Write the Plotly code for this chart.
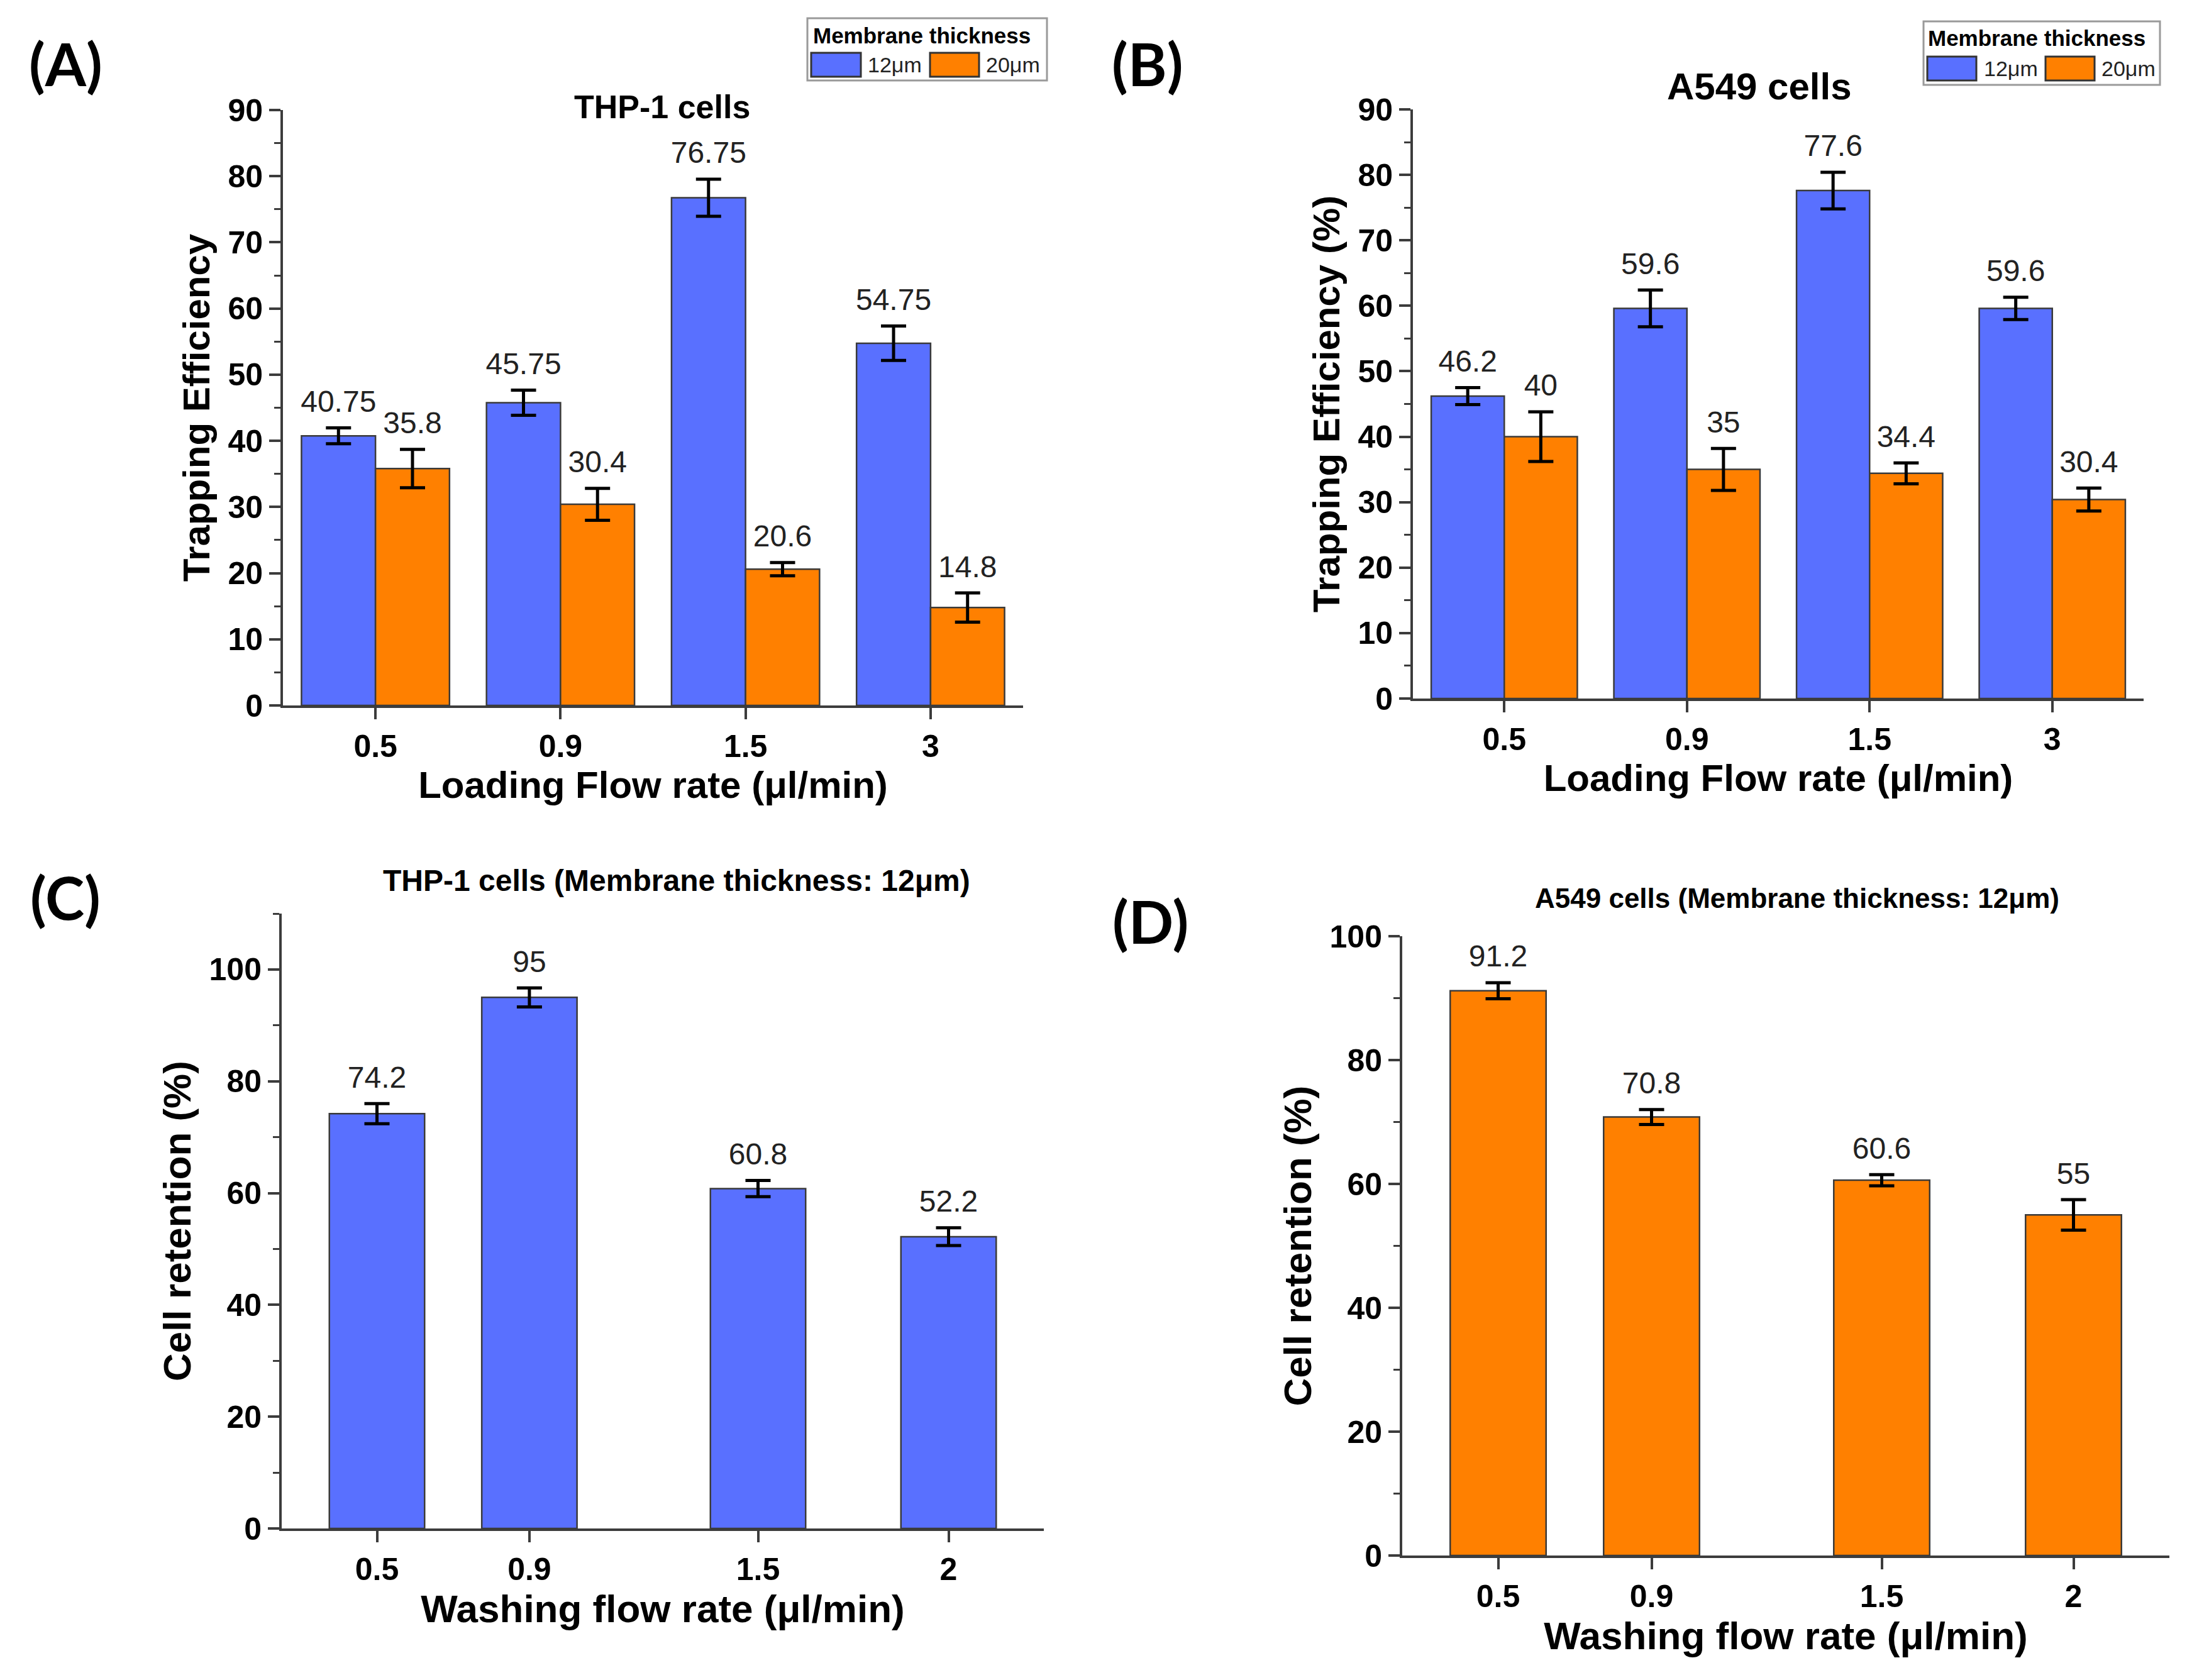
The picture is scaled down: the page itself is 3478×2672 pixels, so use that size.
import plotly.graph_objects as go

W, H = 3478, 2672

# ---------------- data ----------------
load_rates = ["0.5", "0.9", "1.5", "3"]
thp1_trap_12 = [40.75, 45.75, 76.75, 54.75]
thp1_trap_12_err = [1.2, 1.9, 2.8, 2.6]
thp1_trap_20 = [35.8, 30.4, 20.6, 14.8]
thp1_trap_20_err = [2.9, 2.4, 1.0, 2.2]

a549_trap_12 = [46.2, 59.6, 77.6, 59.6]
a549_trap_12_err = [1.3, 2.8, 2.8, 1.7]
a549_trap_20 = [40, 35, 34.4, 30.4]
a549_trap_20_err = [3.8, 3.2, 1.6, 1.75]

wash_rates = [0.5, 0.9, 1.5, 2]
wash_labels = ["0.5", "0.9", "1.5", "2"]
thp1_ret = [74.2, 95, 60.8, 52.2]
thp1_ret_err = [1.8, 1.7, 1.45, 1.6]
a549_ret = [91.2, 70.8, 60.6, 55]
a549_ret_err = [1.3, 1.2, 0.9, 2.45]

series_names = ["12\u03bcm", "20\u03bcm"]

# ---------------- style ----------------
BLUE = "#5970FF"
ORANGE = "#FF8000"
EDGE = "#3a3a3a"
AXC = "#3c3c3c"
FONT = "Liberation Sans"
LABEL_COLOR = "#222222"


def px2x(p):
    return p / W


def px2y(p):
    return 1 - p / H


fig = go.Figure()


def add_bars(xs, vals, errs, color, xa, ya, width):
    fig.add_trace(go.Bar(
        x=xs, y=vals, width=width, xaxis=xa, yaxis=ya,
        marker=dict(color=color, line=dict(color=EDGE, width=2.5)),
        error_y=dict(type="data", array=errs, color="black", thickness=5, width=20),
        showlegend=False, hoverinfo="skip",
    ))
    fig.add_trace(go.Scatter(
        x=xs, y=[v + e for v, e in zip(vals, errs)], xaxis=xa, yaxis=ya,
        mode="markers+text", marker=dict(size=20, opacity=0),
        text=[f"{v:g}" for v in vals], textposition="top center",
        textfont=dict(size=48, color=LABEL_COLOR, family=FONT),
        cliponaxis=False, showlegend=False, hoverinfo="skip",
    ))


# Panel A and B: grouped bars on index positions
idx = list(range(len(load_rates)))
blue_x = [i - 0.2 for i in idx]
orange_x = [i + 0.2 for i in idx]
add_bars(blue_x, thp1_trap_12, thp1_trap_12_err, BLUE, "x", "y", 0.4)
add_bars(orange_x, thp1_trap_20, thp1_trap_20_err, ORANGE, "x", "y", 0.4)
add_bars(blue_x, a549_trap_12, a549_trap_12_err, BLUE, "x2", "y2", 0.4)
add_bars(orange_x, a549_trap_20, a549_trap_20_err, ORANGE, "x2", "y2", 0.4)

# Panel C and D
add_bars(wash_rates, thp1_ret, thp1_ret_err, BLUE, "x3", "y3", 0.25)
add_bars(wash_rates, a549_ret, a549_ret_err, ORANGE, "x4", "y4", 0.25)

tickfont = dict(family=FONT, size=50, color="black", weight="bold")


def xaxis(dom, rng, tickvals, ticktext, title, anchor, tsize=60, standoff=8):
    return dict(
        domain=dom, range=rng, anchor=anchor, tickmode="array", automargin=False,
        tickvals=tickvals, ticktext=ticktext, showgrid=False, zeroline=False,
        showline=True, linecolor=AXC, linewidth=4, ticks="outside", ticklen=18,
        tickwidth=3.5, tickcolor=AXC, tickfont=tickfont,
        title=dict(text=title, font=dict(family=FONT, size=tsize, color="black", weight="bold"),
                   standoff=standoff),
        fixedrange=True,
    )


def yaxis(dom, rng, dtick, mdtick, title, anchor, tsize=60, standoff=10):
    return dict(
        domain=dom, range=rng, anchor=anchor, dtick=dtick, tick0=0, automargin=False,
        showgrid=False, zeroline=False, showline=True, linecolor=AXC, linewidth=4,
        ticks="outside", ticklen=18, tickwidth=3.5, tickcolor=AXC, tickfont=tickfont,
        minor=dict(ticks="outside", ticklen=10, tickwidth=3, tickcolor=AXC, dtick=mdtick, showgrid=False),
        title=dict(text=title, font=dict(family=FONT, size=tsize, color="black", weight="bold"),
                   standoff=standoff),
        fixedrange=True,
    )


fig.update_layout(
    width=W, height=H, autosize=False,
    margin=dict(l=0, r=0, t=0, b=0, pad=0, autoexpand=False),
    paper_bgcolor="white", plot_bgcolor="white",
    barmode="overlay", showlegend=False,
    xaxis=xaxis([px2x(450), px2x(1627)], [-0.5, 3.5], idx, load_rates,
                "Loading Flow rate (\u03bcl/min)", "y"),
    yaxis=yaxis([px2y(1122), px2y(175)], [0, 90], 10, 5, "Trapping Efficiency", "x"),
    xaxis2=xaxis([px2x(2247), px2x(3409)], [-0.5, 3.5], idx, load_rates,
                 "Loading Flow rate (\u03bcl/min)", "y2"),
    yaxis2=yaxis([px2y(1111), px2y(174)], [0, 90], 10, 5, "Trapping Efficiency (%)", "x2"),
    xaxis3=xaxis([px2x(448), px2x(1660)], [0.25, 2.25], wash_rates, wash_labels,
                 "Washing flow rate (\u03bcl/min)", "y3", tsize=62),
    yaxis3=yaxis([px2y(2431), px2y(1453)], [0, 110], 20, 10, "Cell retention (%)", "x3", tsize=62),
    xaxis4=xaxis([px2x(2230), px2x(3450)], [0.25, 2.25], wash_rates, wash_labels,
                 "Washing flow rate (\u03bcl/min)", "y4", tsize=62),
    yaxis4=yaxis([px2y(2474), px2y(1489)], [0, 100], 20, 10, "Cell retention (%)", "x4", tsize=62),
)

ann = []


def text(xp, yp, s, size, bold=True, color="black", family=FONT, xanchor="center"):
    ann.append(dict(x=px2x(xp), y=px2y(yp), xref="paper", yref="paper", text=s,
                    showarrow=False, xanchor=xanchor, yanchor="middle",
                    font=dict(family=family, size=size, color=color,
                              weight="bold" if bold else "normal")))


# panel letters
text(104, 100, "(A)", 94, family="Lato")
text(1825, 100, "(B)", 94, family="Lato")
text(104, 1426, "(C)", 94, family="Lato")
text(1830, 1464, "(D)", 94, family="Lato")

# panel titles
text(1053, 170, "THP-1 cells", 52)
text(2798, 137, "A549 cells", 60)
text(1076, 1400, "THP-1 cells (Membrane thickness: 12\u03bcm)", 48)
text(2858, 1428, "A549 cells (Membrane thickness: 12\u03bcm)", 44)

shapes = []


def legend(box, title_c, sw1, sw2, t1, t2):
    x0, y0, x1, y1 = box
    shapes.append(dict(type="rect", xref="paper", yref="paper",
                       x0=px2x(x0), x1=px2x(x1), y0=px2y(y1), y1=px2y(y0),
                       line=dict(color="#9a9a9a", width=3), fillcolor="white", layer="above"))
    text(title_c[0], title_c[1], "Membrane thickness", 35)
    for (a, b, c, d), col in ((sw1, BLUE), (sw2, ORANGE)):
        shapes.append(dict(type="rect", xref="paper", yref="paper",
                           x0=px2x(a), x1=px2x(c), y0=px2y(d), y1=px2y(b),
                           line=dict(color="#333333", width=3), fillcolor=col, layer="above"))
    text(t1[0], t1[1], series_names[0], 34, bold=False, color=LABEL_COLOR, xanchor="left")
    text(t2[0], t2[1], series_names[1], 34, bold=False, color=LABEL_COLOR, xanchor="left")


legend((1284, 29, 1665, 128), (1466, 56), (1290, 84, 1369, 122), (1479, 84, 1557, 122),
       (1378, 103), (1566, 103))
legend((3059, 34, 3435, 135), (3239, 61), (3065, 90, 3143, 128), (3253, 90, 3331, 128),
       (3153, 109), (3340, 109))

fig.update_layout(annotations=ann, shapes=shapes)

fig.write_html("out.html", config={"displayModeBar": False})
